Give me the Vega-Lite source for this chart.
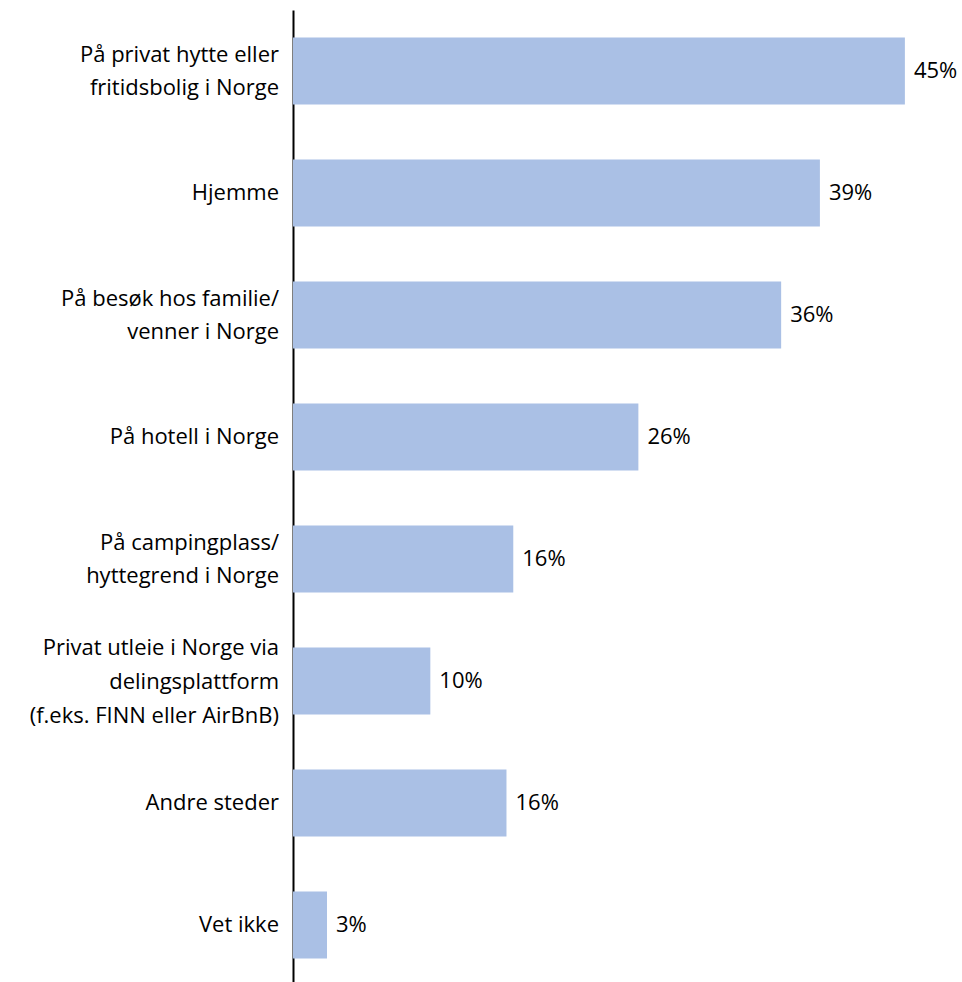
{
  "$schema": "https://vega.github.io/schema/vega-lite/v6.json",
  "width": 669,
  "height": 976,
  "autosize": "none",
  "padding": {"left": 293, "top": 10, "right": 0, "bottom": 0},
  "data": {
    "values": [
      {"kategori": "På privat hytte eller\u00a0\nfritidsbolig i Norge", "andel": 45.0, "etikett": "45%"},
      {"kategori": "Hjemme", "andel": 38.75, "etikett": "39%"},
      {"kategori": "På besøk hos familie/\nvenner i Norge", "andel": 35.9, "etikett": "36%"},
      {"kategori": "På hotell i Norge", "andel": 25.4, "etikett": "26%"},
      {"kategori": "På campingplass/\nhyttegrend i Norge", "andel": 16.2, "etikett": "16%"},
      {"kategori": "Privat utleie i Norge via\u00a0\ndelingsplattform\n(f.eks. FINN eller AirBnB)", "andel": 10.1, "etikett": "10%"},
      {"kategori": "Andre steder", "andel": 15.7, "etikett": "16%"},
      {"kategori": "Vet ikke", "andel": 2.5, "etikett": "3%"}
    ]
  },
  "encoding": {
    "y": {
      "field": "kategori",
      "type": "nominal",
      "sort": null,
      "scale": {"paddingInner": 0.45, "paddingOuter": 0.225},
      "axis": {
        "title": null,
        "labels": false,
        "ticks": false,
        "domainColor": "#000000",
        "domainWidth": 2
      }
    },
    "x": {
      "field": "andel",
      "type": "quantitative",
      "scale": {"domain": [0, 49.2]},
      "axis": null
    }
  },
  "layer": [
    {"mark": {"type": "bar", "color": "#aac0e5"}},
    {
      "mark": {"type": "text", "align": "left", "baseline": "middle", "dx": 9, "fontSize": 22, "color": "#000000"},
      "encoding": {"text": {"field": "etikett"}}
    },
    {
      "transform": [{"filter": "length(split(datum.kategori, '\\n')) == 1"}],
      "mark": {"type": "text", "align": "right", "baseline": "middle", "dx": -14, "fontSize": 22, "color": "#000000", "lineBreak": "\n", "lineHeight": 33},
      "encoding": {"x": {"datum": 0}, "text": {"field": "kategori"}}
    },
    {
      "transform": [{"filter": "length(split(datum.kategori, '\\n')) == 2"}],
      "mark": {"type": "text", "align": "right", "baseline": "middle", "dx": -14, "dy": -16, "fontSize": 22, "color": "#000000", "lineBreak": "\n", "lineHeight": 33},
      "encoding": {"x": {"datum": 0}, "text": {"field": "kategori"}}
    },
    {
      "transform": [{"filter": "length(split(datum.kategori, '\\n')) == 3"}],
      "mark": {"type": "text", "align": "right", "baseline": "middle", "dx": -14, "dy": -33, "fontSize": 22, "color": "#000000", "lineBreak": "\n", "lineHeight": 34},
      "encoding": {"x": {"datum": 0}, "text": {"field": "kategori"}}
    }
  ],
  "config": {"view": {"stroke": null}, "font": "Open Sans"}
}
